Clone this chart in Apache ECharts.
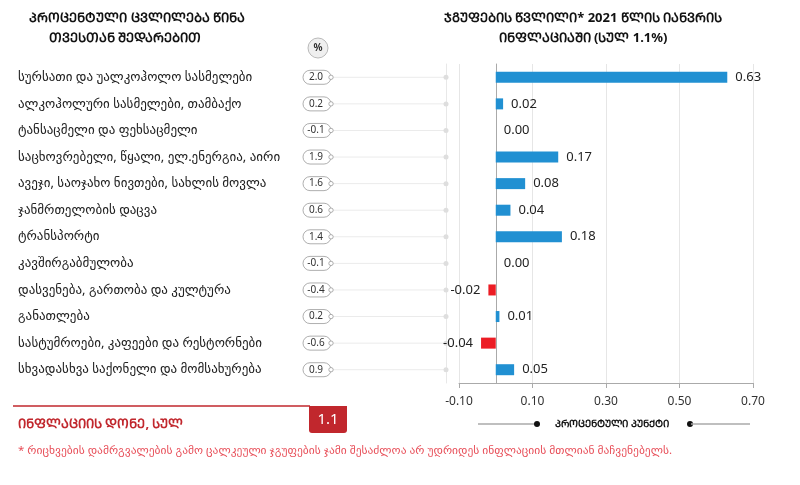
<!DOCTYPE html>
<html>
<head>
<meta charset="utf-8">
<script src="https://cdn.jsdelivr.net/npm/echarts@6/dist/echarts.min.js"></script>
<style>
  html, body { margin: 0; padding: 0; background: #fff; }
  #chart { width: 800px; height: 485px; }
</style>
</head>
<body>
<div id="chart"></div>
<script>
// category names (top to bottom)
const categories = [
  'სურსათი და უალკოჰოლო სასმელები',
  'ალკოჰოლური სასმელები, თამბაქო',
  'ტანსაცმელი და ფეხსაცმელი',
  'საცხოვრებელი, წყალი, ელ.ენერგია, აირი',
  'ავეჯი, საოჯახო ნივთები, სახლის მოვლა',
  'ჯანმრთელობის დაცვა',
  'ტრანსპორტი',
  'კავშირგაბმულობა',
  'დასვენება, გართობა და კულტურა',
  'განათლება',
  'სასტუმროები, კაფეები და რესტორნები',
  'სხვადასხვა საქონელი და მომსახურება'
]

// % change vs previous month
const monthlyChange = [2.0, 0.2, -0.1, 1.9, 1.6, 0.6, 1.4, -0.1, -0.4, 0.2, -0.6, 0.9]

// contribution to annual inflation, percentage points
const contribution = [0.63, 0.02, 0.00, 0.17, 0.08, 0.04, 0.18, 0.00, -0.02, 0.01, -0.04, 0.05]

// x axis ticks: -0.10 ... 0.70
const xMin = -0.1
const xMax = 0.7
const xStep = 0.2

const totalInflation = 1.1

const leftTitle = ['ᲞᲠᲝᲪᲔᲜᲢᲣᲚᲘ ᲪᲕᲚᲘᲚᲔᲑᲐ ᲬᲘᲜᲐ', 'ᲗᲕᲔᲡᲗᲐᲜ ᲨᲔᲓᲐᲠᲔᲑᲘᲗ']
const rightTitle = ['ᲯᲒᲣᲤᲔᲑᲘᲡ ᲬᲕᲚᲘᲚᲘ* 2021 ᲬᲚᲘᲡ ᲘᲐᲜᲕᲠᲘᲡ', 'ᲘᲜᲤᲚᲐᲪᲘᲐᲨᲘ (ᲡᲣᲚ 1.1%)']
const totalLabel = 'ᲘᲜᲤᲚᲐᲪᲘᲘᲡ ᲓᲝᲜᲔ, ᲡᲣᲚ'
const legendLabel = 'ᲞᲠᲝᲪᲔᲜᲢᲣᲚᲘ ᲞᲣᲜᲥᲢᲘ'
const footnote = '* რიცხვების დამრგვალების გამო ცალკეული ჯგუფების ჯამი შესაძლოა არ უდრიდეს ინფლაციის მთლიან მაჩვენებელს.'

const FONT = '"Noto Sans", "DejaVu Sans", sans-serif'
const BLUE = '#2190d2'
const RED = '#ec1c24'
const DARK_RED = '#c1272d'

let chart = echarts.init(document.getElementById('chart'))

/**
 * draws the small pill with the monthly change and its guide line
 */
function renderPill (params, api) {
  let p = api.coord([0, api.value(1)])
  let x = p[0]
  let y = p[1]
  let right = params.coordSys.x + params.coordSys.width
  let v = api.value(2)
  return {
    type: 'group',
    children: [
      {type: 'line', shape: {x1: x + 33, y1: y, x2: right, y2: y}, style: {stroke: '#ebebeb', lineWidth: 1}},
      {type: 'circle', shape: {cx: right, cy: y, r: 2.5}, style: {fill: '#dedede'}},
      {type: 'rect', shape: {x: x + 3, y: y - 7, width: 28, height: 14, r: 7}, style: {fill: '#fff', stroke: '#9a9a9a', lineWidth: 0.8}},
      {type: 'circle', shape: {cx: x + 31, cy: y, r: 2.2}, style: {fill: '#fff', stroke: '#9a9a9a', lineWidth: 0.8}},
      {type: 'text', style: {x: x + 16, y: y, text: v.toFixed(1), fill: '#333', fontSize: 10, fontFamily: FONT, align: 'center', verticalAlign: 'middle'}}
    ]
  }
}

let option = {
  animation: false,
  textStyle: {fontFamily: FONT},
  grid: [
    {left: 300, width: 146, top: 64, height: 319},
    {left: 459, width: 294, top: 64, height: 319}
  ],
  xAxis: [
    {gridIndex: 0, type: 'value', min: 0, max: 1, show: false},
    {
      gridIndex: 1,
      type: 'value',
      min: xMin,
      max: xMax,
      interval: xStep,
      axisLine: {show: true, lineStyle: {color: '#aaa'}},
      axisTick: {show: true, length: 5, lineStyle: {color: '#aaa'}},
      axisLabel: {color: '#333', fontSize: 12, margin: 13, formatter: v => v.toFixed(2)},
      splitLine: {show: true, lineStyle: {color: '#e6e6e6'}}
    }
  ],
  yAxis: [
    {
      gridIndex: 0,
      type: 'category',
      data: categories,
      inverse: true,
      axisLine: {show: false},
      axisTick: {show: false},
      axisLabel: {align: 'left', margin: 282, color: '#222', fontSize: 13}
    },
    {
      gridIndex: 0,
      type: 'category',
      data: categories,
      inverse: true,
      position: 'right',
      axisLine: {show: true, lineStyle: {color: '#e8e8e8'}},
      axisTick: {show: false},
      axisLabel: {show: false}
    },
    {
      gridIndex: 1,
      type: 'category',
      data: categories,
      inverse: true,
      axisLine: {show: true, onZero: true, lineStyle: {color: '#aaa'}},
      axisTick: {show: false},
      axisLabel: {show: false}
    }
  ],
  series: [
    {
      type: 'custom',
      xAxisIndex: 0,
      yAxisIndex: 0,
      renderItem: renderPill,
      data: monthlyChange.map((v, i) => [0, i, v])
    },
    {
      type: 'bar',
      xAxisIndex: 1,
      yAxisIndex: 2,
      barWidth: 11,
      data: contribution.map(v => ({
        value: v,
        itemStyle: {color: v < 0 ? RED : BLUE},
        label: {position: v < 0 ? 'left' : 'right'}
      })),
      label: {
        show: true,
        distance: 8,
        color: '#222',
        fontSize: 13,
        formatter: p => p.value.toFixed(2)
      }
    }
  ],
  graphic: [
    {type: 'text', style: {x: 137, y: 18, text: leftTitle[0], fill: '#111', font: 'bold 13px ' + FONT, align: 'center', verticalAlign: 'middle'}},
    {type: 'text', style: {x: 125, y: 38, text: leftTitle[1], fill: '#111', font: 'bold 13px ' + FONT, align: 'center', verticalAlign: 'middle'}},
    {type: 'text', style: {x: 583, y: 18, text: rightTitle[0], fill: '#111', font: 'bold 13px ' + FONT, align: 'center', verticalAlign: 'middle'}},
    {type: 'text', style: {x: 583, y: 38, text: rightTitle[1], fill: '#111', font: 'bold 13px ' + FONT, align: 'center', verticalAlign: 'middle'}},
    {type: 'circle', shape: {cx: 318, cy: 48, r: 10}, style: {fill: '#efefef', stroke: '#aaa', lineWidth: 0.8}},
    {type: 'text', style: {x: 318, y: 48, text: '%', fill: '#333', font: 'bold 10px ' + FONT, align: 'center', verticalAlign: 'middle'}},
    {type: 'line', shape: {x1: 13, y1: 406, x2: 310, y2: 406}, style: {stroke: DARK_RED, lineWidth: 1.5}},
    {type: 'rect', shape: {x: 309, y: 406, width: 38, height: 27, r: [0, 0, 3, 3]}, style: {fill: DARK_RED}},
    {type: 'text', style: {x: 328, y: 420, text: totalInflation.toFixed(1), fill: '#fff', font: '15px ' + FONT, align: 'center', verticalAlign: 'middle'}},
    {type: 'text', style: {x: 18, y: 424, text: totalLabel, fill: DARK_RED, font: 'bold 13px ' + FONT, verticalAlign: 'middle'}},
    {type: 'line', shape: {x1: 478, y1: 424, x2: 536, y2: 424}, style: {stroke: '#aaa', lineWidth: 1.5}},
    {type: 'circle', shape: {cx: 537, cy: 424, r: 3}, style: {fill: '#111'}},
    {type: 'text', style: {x: 612, y: 424, text: legendLabel, fill: '#111', font: 'bold 10px ' + FONT, align: 'center', verticalAlign: 'middle'}},
    {type: 'circle', shape: {cx: 690, cy: 424, r: 3}, style: {fill: '#111'}},
    {type: 'line', shape: {x1: 691, y1: 424, x2: 750, y2: 424}, style: {stroke: '#aaa', lineWidth: 1.5}},
    {type: 'text', style: {x: 18, y: 451, text: footnote, fill: '#e8505a', font: '11.5px ' + FONT, verticalAlign: 'middle'}}
  ]
}

chart.setOption(option)
</script>
</body>
</html>
